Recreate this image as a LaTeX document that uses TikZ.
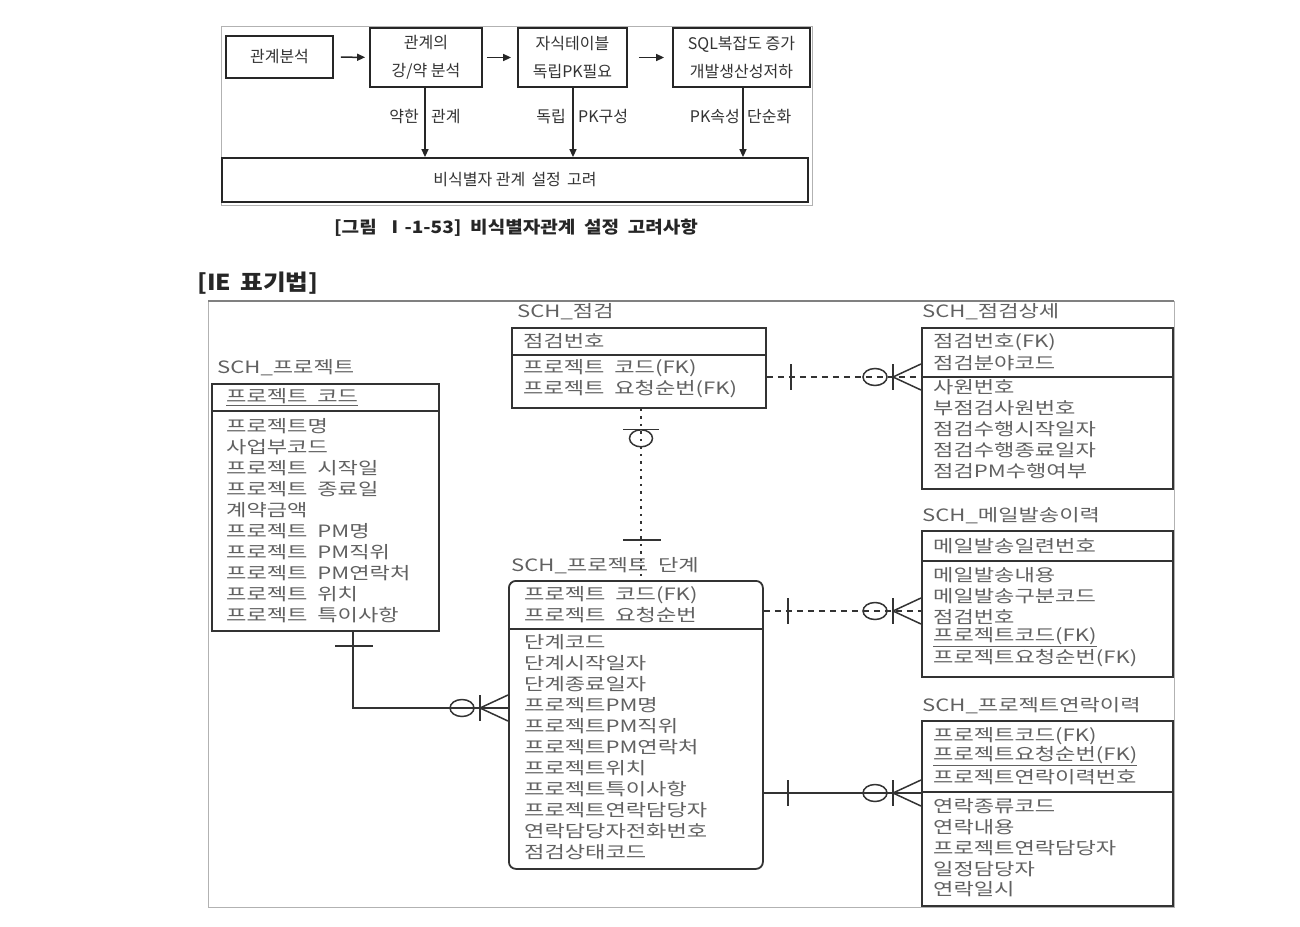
\documentclass[tikz,border=0pt]{standalone}
\usepackage{fontspec}
\usetikzlibrary{arrows.meta}
\newfontfamily\kr{Noto Sans CJK KR}
\newfontfamily\krw[FakeStretch=1.3]{Noto Sans CJK KR}
\newfontfamily\krc[FakeStretch=1.12]{Noto Sans CJK KR}
\begin{document}
\begin{tikzpicture}[x=1pt,y=-1pt,
 fbox/.style={draw=black!85, line width=1.8pt, align=center, inner sep=0pt, font=\kr\fontsize{16}{28}\selectfont, text=black!80},
 flbl/.style={inner sep=0pt, font=\kr\fontsize{16}{18}\selectfont, text=black!80},
 arr/.style={draw=black!85, line width=1.5pt, -{Triangle[length=8pt,width=7pt]}},
 tbl/.style={draw=black!80, line width=1.8pt, anchor=north west, inner sep=0pt},
 sepl/.style={draw=black!80, line width=1.8pt},
 row/.style={anchor=west, inner sep=0pt, font=\krw\fontsize{17}{20}\selectfont, text=black!62},
 ttl/.style={row},
 conn/.style={draw=black!80, line width=1.5pt},
 dconn/.style={conn, dash pattern=on 6pt off 5pt},
 dotconn/.style={conn, dash pattern=on 2.5pt off 5pt},
 mk/.style={draw=black!80, line width=1.5pt, solid},
 onebar/.pic={\draw[mk] (24,-13) -- (24,13);},
 crowL/.pic={\draw[mk] (-46,0) ellipse [x radius=12pt, y radius=8.5pt];
   \draw[mk] (-28,-13) -- (-28,13);
   \draw[mk] (-28,0) -- (0,-13) (-28,0) -- (0,13);}
]
\useasboundingbox (0,0) rectangle (1300,926);
\fill[white] (0,0) rectangle (1300,926);

% ---------- top figure ----------
\draw[black!30, line width=1pt] (221,26) rectangle (812,205);
\node[fbox, minimum width=107, minimum height=42] (b1) at (279.5,57) {관계분석};
\node[fbox, minimum width=112, minimum height=59] (b2) at (426,57.5) {관계의\\강/약 분석};
\node[fbox, minimum width=109, minimum height=59] (b3) at (572.5,57.5) {자식테이블\\독립PK필요};
\node[fbox, minimum width=137, minimum height=59] (b4) at (741.5,57.5) {SQL복잡도 증가\\개발생산성저하};
\node[fbox, minimum width=586, minimum height=44] (b5) at (515,180) {비식별자 관계 \,설정 \,고려};
\draw[arr, shorten <=7pt, shorten >=4pt] (b1) -- (b2);
\draw[arr, shorten <=4pt, shorten >=6pt] (b2) -- (b3);
\draw[arr, shorten <=11pt, shorten >=8pt] (b3) -- (b4);
\coordinate (v1) at (425,0);
\coordinate (v2) at (573,0);
\coordinate (v3) at (743,0);
\draw[arr] (b2.south -| v1) -- (b5.north -| v1);
\draw[arr] (b3.south -| v2) -- (b5.north -| v2);
\draw[arr] (b4.south -| v3) -- (b5.north -| v3);
\node[flbl, anchor=east] (l1a) at (419,117) {약한};
\node[flbl, anchor=west] (l1b) at (431,117) {관계};
\node[flbl, anchor=east] (l2a) at (566,117) {독립};
\node[flbl, anchor=west] (l2b) at (578,117) {PK구성};
\node[flbl, anchor=east] (l3a) at (740,117) {PK속성};
\node[flbl, anchor=west] (l3b) at (747,117) {단순화};
\node[inner sep=0pt, font=\krc\bfseries\fontsize{17}{18}\selectfont, text=black!85] (cap) at (516,228) {[그림 \ Ⅰ-1-53] \ 비식별자관계 \ 설정 \ 고려사항};

% ---------- IE section ----------
\node[anchor=west, inner sep=0pt, font=\krc\bfseries\fontsize{22}{24}\selectfont, text=black!85] (ie) at (197,283) {[IE \,표기법]};
\draw[black!30, line width=1pt] (208,301) rectangle (1174,907);
\draw[black!50, line width=2.5pt] (208,301) -- (1174,301);

% SCH_점검
\node[ttl] (jgT) at (517,312) {SCH\_점검};
\node[tbl, minimum width=254, minimum height=80] (jg) at (511,327) {};
\draw[sepl] (jg.west |- 0,355) -- (jg.east |- 0,355);
\node[row] (jg1) at (523,341) {점검번호};
\node[row] (jg2) at (523,368) {프로젝트 \ 코드(FK)};
\node[row] (jg3) at (523,389) {프로젝트 \ 요청순번(FK)};

% SCH_점검상세
\node[ttl] (jsT) at (922,312) {SCH\_점검상세};
\node[tbl, minimum width=251, minimum height=161] (js) at (921,327) {};
\draw[sepl] (js.west |- 0,377) -- (js.east |- 0,377);
\foreach [count=\i] \t/\yy in {점검번호(FK)/342, 점검분야코드/363, 사원번호/387, 부점검사원번호/408, 점검수행시작일자/429, 점검수행종료일자/450, 점검PM수행여부/471}
  \node[row] (js\i) at (933,\yy) {\t};

% SCH_프로젝트
\node[ttl] (pjT) at (217,368) {SCH\_프로젝트};
\node[tbl, minimum width=227, minimum height=247] (pj) at (211,383) {};
\draw[sepl] (pj.west |- 0,411) -- (pj.east |- 0,411);
\node[row] (pj0) at (226,397) {\underline{프로젝트 \ 코드}};
\foreach [count=\i] \t/\yy in {프로젝트명/426, 사업부코드/447, 프로젝트 \ 시작일/468, 프로젝트 \ 종료일/489, 계약금액/510, 프로젝트 \ PM명/531, 프로젝트 \ PM직위/552, 프로젝트 \ PM연락처/573, 프로젝트 \ 위치/594, 프로젝트 \ 특이사항/615}
  \node[row] (pj\i) at (226,\yy) {\t};

% SCH_프로젝트 단계
\node[ttl] (dnT) at (511,566) {SCH\_프로젝트 \ 단계};
\node[tbl, rounded corners=7pt, minimum width=254, minimum height=288] (dn) at (508,580) {};
\draw[sepl] (dn.west |- 0,629) -- (dn.east |- 0,629);
\foreach [count=\i] \t/\yy in {프로젝트 \ 코드(FK)/595, 프로젝트 \ 요청순번/615, 단계코드/642, 단계시작일자/663, 단계종료일자/684, 프로젝트PM명/705, 프로젝트PM직위/726, 프로젝트PM연락처/747, 프로젝트위치/768, 프로젝트특이사항/789, 프로젝트연락담당자/810, 연락담당자전화번호/831, 점검상태코드/852}
  \node[row] (dn\i) at (524,\yy) {\t};

% SCH_메일발송이력
\node[ttl] (mlT) at (922,516) {SCH\_메일발송이력};
\node[tbl, minimum width=251, minimum height=146] (ml) at (921,530) {};
\draw[sepl] (ml.west |- 0,561) -- (ml.east |- 0,561);
\node[row] (ml0) at (933,546) {메일발송일련번호};
\node[row] (ml1) at (933,575) {메일발송내용};
\node[row] (ml2) at (933,596) {메일발송구분코드};
\node[row] (ml3) at (933,617) {점검번호};
\node[row] (ml4) at (933,637) {\underline{프로젝트코드(FK)}};
\node[row] (ml5) at (933,658) {프로젝트요청순번(FK)};

% SCH_프로젝트연락이력
\node[ttl] (ctT) at (922,706) {SCH\_프로젝트연락이력};
\node[tbl, minimum width=251, minimum height=185] (ct) at (921,720) {};
\draw[sepl] (ct.west |- 0,792) -- (ct.east |- 0,792);
\node[row] (ct1) at (933,736) {프로젝트코드(FK)};
\node[row] (ct2) at (933,756) {\underline{프로젝트요청순번(FK)}};
\node[row] (ct3) at (933,777) {프로젝트연락이력번호};
\foreach [count=\i from 4] \t/\yy in {연락종류코드/806, 연락내용/827, 프로젝트연락담당자/848, 일정담당자/869, 연락일시/889}
  \node[row] (ct\i) at (933,\yy) {\t};

% ---------- connectors ----------
% 점검 -> 점검상세
\coordinate (c1s) at (jg.east |- 0,377);
\coordinate (c1e) at (js.west |- 0,377);
\draw[dconn] (c1s) -- (c1e);
\pic at (c1s) {onebar};
\pic at (c1e) {crowL};

% 점검 -- 프로젝트 단계
\coordinate (x641) at (641,0);
\coordinate (c2s) at (jg.south -| x641);
\coordinate (c2e) at (dn.north -| x641);
\draw[dotconn] (c2s) -- (c2e);
\draw[mk] ([shift={(-18,20.5)}]c2s) -- ([shift={(18,20.5)}]c2s);
\draw[mk] ([shift={(0,29.5)}]c2s) ellipse [x radius=11.5pt, y radius=8.5pt];
\draw[mk] ([shift={(-18,-40)}]c2e) -- ([shift={(20,-40)}]c2e);

% 프로젝트 -> 프로젝트 단계
\coordinate (x353) at (353,0);
\coordinate (c3s) at (pj.south -| x353);
\coordinate (c3e) at (dn.west |- 0,708);
\draw[conn] (c3s) |- (c3e);
\draw[mk] ([shift={(-18,14)}]c3s) -- ([shift={(20,14)}]c3s);
\pic at (c3e) {crowL};

% 프로젝트 단계 -> 메일발송이력
\coordinate (c4s) at (dn.east |- 0,611);
\coordinate (c4e) at (ml.west |- 0,611);
\draw[dconn] (c4s) -- (c4e);
\pic at (c4s) {onebar};
\pic at (c4e) {crowL};

% 프로젝트 단계 -> 프로젝트연락이력
\coordinate (c5s) at (dn.east |- 0,793);
\coordinate (c5e) at (ct.west |- 0,793);
\draw[conn] (c5s) -- (c5e);
\pic at (c5s) {onebar};
\pic at (c5e) {crowL};
\end{tikzpicture}
\end{document}
